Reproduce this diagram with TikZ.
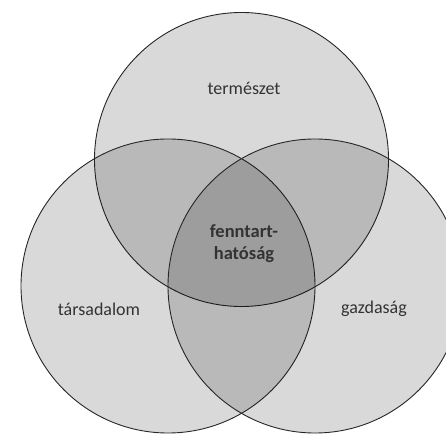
\documentclass[tikz,border=0pt]{standalone}
\usepackage{fontspec}
\setmainfont{Carlito}
\begin{document}
\begin{tikzpicture}[x=1pt,y=1pt,
  setcircle/.style={circle,draw=black!85,line width=0.9pt,fill=black,fill opacity=0.15,draw opacity=1,inner sep=0pt,minimum size=294pt},
  lbl/.style={text=black!80,font=\fontsize{18}{21}\selectfont,align=center,inner sep=0pt}]
\useasboundingbox (0,0) rectangle (446,433);
\node[setcircle] (top) at (241.5,273.5) {};
\node[setcircle] (left) at (168,147) {};
\node[setcircle] (right) at (315,147) {};
\node[lbl] (t1) at (244,345) {természet};
\node[lbl] (t2) at (99,124) {társadalom};
\node[lbl] (t3) at (374,124) {gazdaság};
\node[lbl,font=\fontsize{18.5}{22}\selectfont\bfseries] (t4) at (244,189) {fenntart-\\hatóság};
\end{tikzpicture}
\end{document}
